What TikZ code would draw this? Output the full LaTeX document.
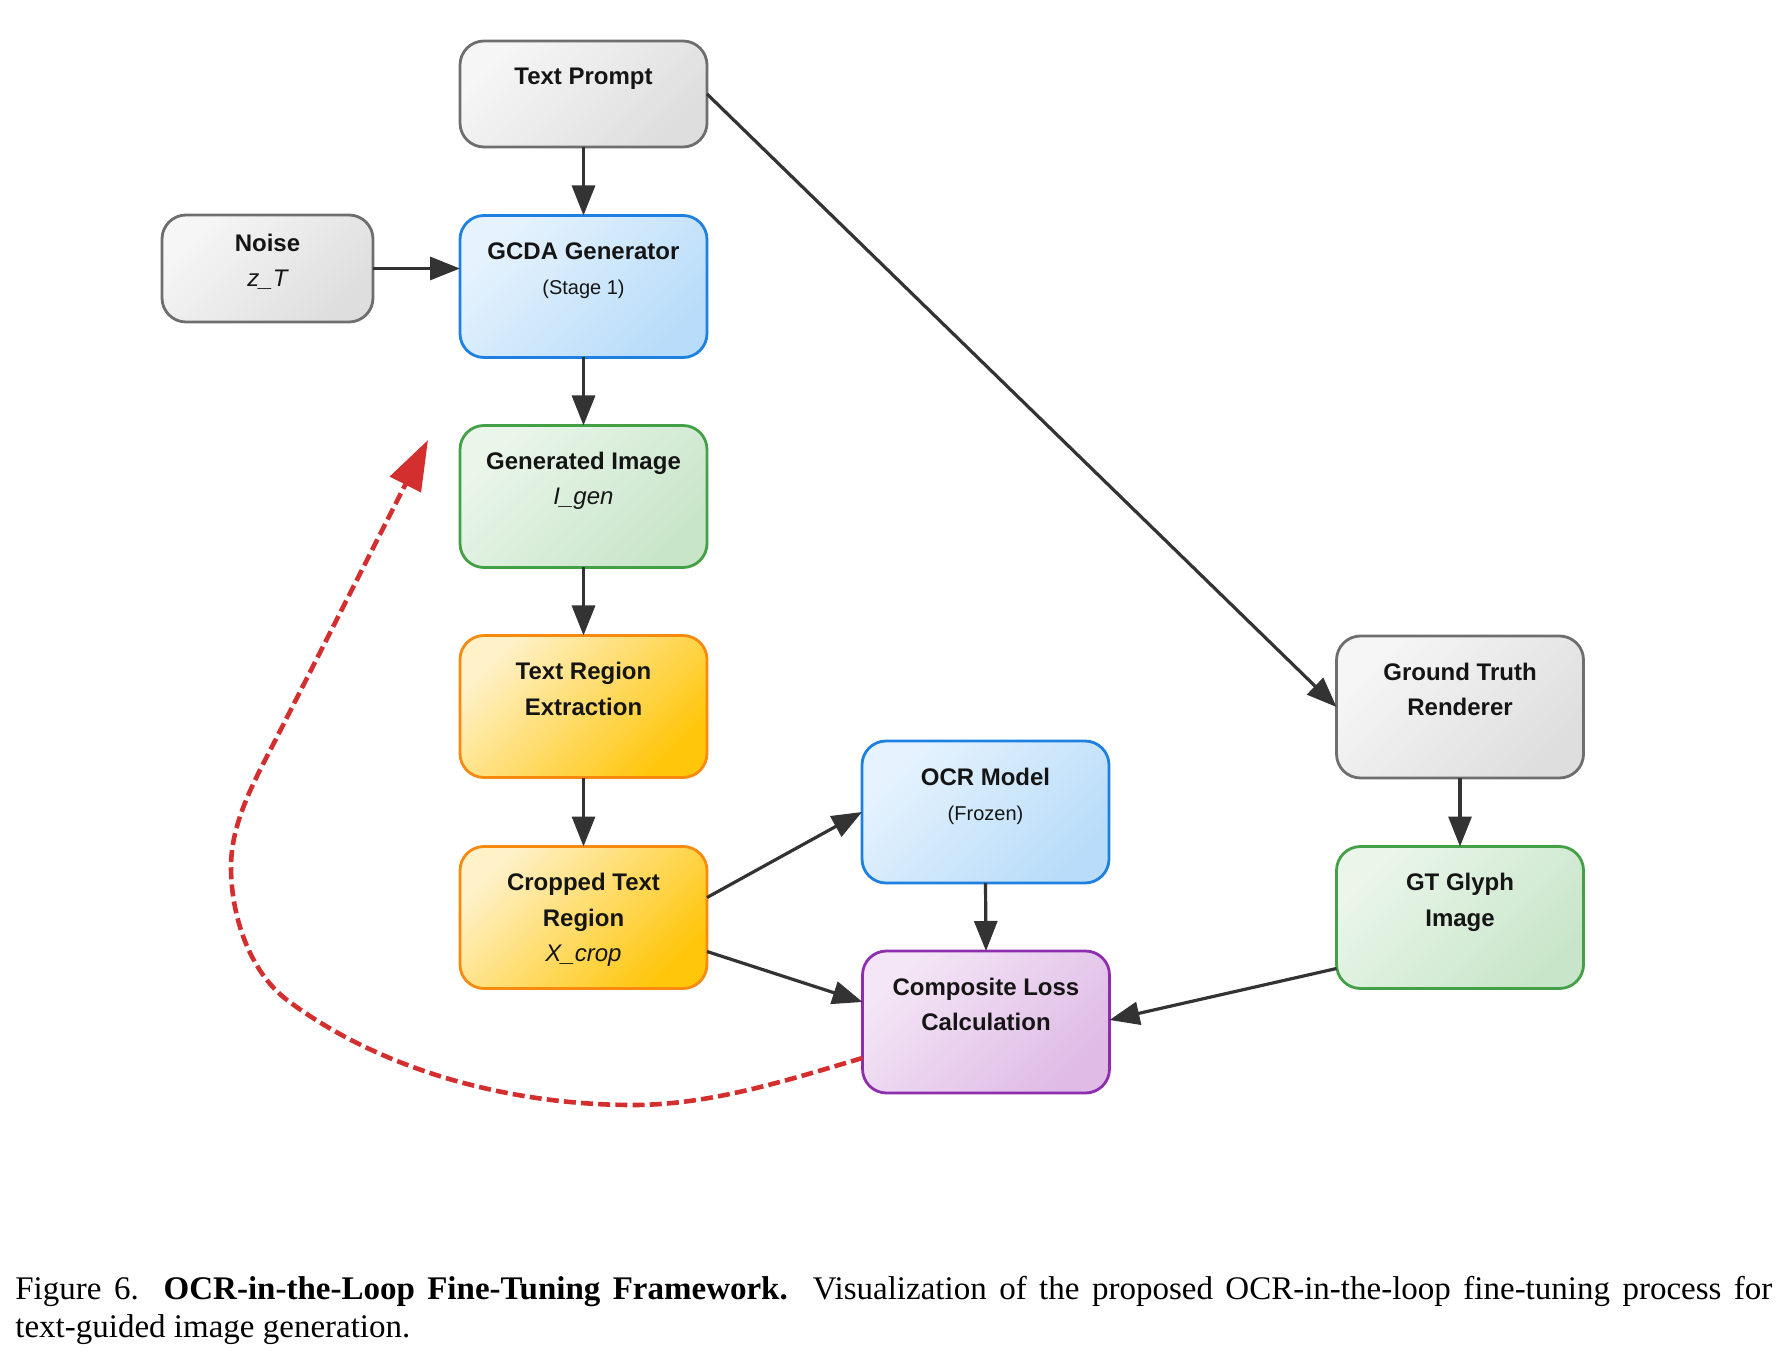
\documentclass[tikz,border=0pt]{standalone}
\usepackage{fontspec}
\setmainfont{Liberation Serif}
\newfontfamily\lsans{Liberation Sans}
\usetikzlibrary{arrows.meta,calc}
\definecolor{txt}{HTML}{151515}
\definecolor{arrc}{HTML}{333333}
\definecolor{fbred}{HTML}{D32F2F}
\definecolor{grayd}{HTML}{6E6E6E}\definecolor{grayl}{HTML}{F6F6F6}\definecolor{grayr}{HTML}{DEDEDE}
\definecolor{blued}{HTML}{1E80E0}\definecolor{bluel}{HTML}{E6F3FE}\definecolor{bluer}{HTML}{B8DCF9}
\definecolor{greend}{HTML}{43A047}\definecolor{greenl}{HTML}{EAF6EA}\definecolor{greenr}{HTML}{C8E5C9}
\definecolor{orad}{HTML}{F98A10}\definecolor{oral}{HTML}{FFF1C8}\definecolor{orar}{HTML}{FFC60A}
\definecolor{purd}{HTML}{8E2DAE}\definecolor{purl}{HTML}{F4E6F6}\definecolor{purr}{HTML}{DFBBE6}
\newcommand\bxt[4]{\parbox[c][#2][t]{#1}{\centering\vspace*{#3}\strut #4\par}}
\newcommand\smalltxt[1]{{\mdseries\fontsize{10}{17.75}\selectfont #1}}
\newcommand\vartxt[1]{{\mdseries\itshape #1}}
\tikzset{
  nbox/.style={line width=1.4pt, rounded corners=12pt, inner sep=0pt, outer sep=0pt, text=txt,
    font=\lsans\bfseries\fontsize{12}{17.75}\selectfont},
  grayb/.style={nbox, draw=grayd, top color=grayl, bottom color=grayr, shading angle=45},
  blueb/.style={nbox, draw=blued, top color=bluel, bottom color=bluer, shading angle=45},
  greenb/.style={nbox, draw=greend, top color=greenl, bottom color=greenr, shading angle=45},
  orab/.style={nbox, draw=orad, top color=oral, bottom color=orar, shading angle=45},
  purb/.style={nbox, draw=purd, top color=purl, bottom color=purr, shading angle=45},
  arr/.style={draw=arrc, line width=1.6pt, -{Triangle[length=15pt,width=11.5pt]}},
  fbarr/.style={draw=fbred, line width=2.3pt, dash pattern=on 6pt off 2.6pt, -{Triangle[length=25pt,width=17pt]}},
}
\begin{document}
\begin{tikzpicture}[x=0.5pt,y=-0.5pt]
\useasboundingbox (0,0) rectangle (1792,1368);
% nodes
\node[grayb] (tp) at (583.5,94) {\bxt{123.5pt}{53pt}{9.575pt}{Text Prompt}};
\node[grayb] (noise) at (267.5,268.5) {\bxt{105.5pt}{53.5pt}{5.825pt}{Noise\\\vartxt{z\_T}}};
\node[blueb] (gcda) at (583.5,286.5) {\bxt{123.5pt}{71pt}{9.575pt}{GCDA Generator\\\smalltxt{(Stage 1)}}};
\node[greenb] (gen) at (583.5,496.5) {\bxt{123.5pt}{71pt}{9.575pt}{Generated Image\\\vartxt{I\_gen}}};
\node[orab] (tre) at (583.5,706.5) {\bxt{123.5pt}{71pt}{9.575pt}{Text Region\\Extraction}};
\node[orab] (crop) at (583.5,917.5) {\bxt{123.5pt}{71pt}{9.575pt}{Cropped Text\\Region\\\vartxt{X\_crop}}};
\node[blueb] (ocr) at (985.5,812) {\bxt{123.5pt}{71pt}{9.575pt}{OCR Model\\\smalltxt{(Frozen)}}};
\node[purb] (comp) at (986,1022) {\bxt{123.5pt}{71pt}{9.575pt}{Composite Loss\\Calculation}};
\node[grayb] (gtr) at (1460,707) {\bxt{123.5pt}{71pt}{9.575pt}{Ground Truth\\Renderer}};
\node[greenb] (gtg) at (1460,917.5) {\bxt{123.5pt}{71pt}{9.575pt}{GT Glyph\\Image}};
% connectors
\draw[arr] (tp.south) -- (gcda.north);
\draw[arr] (noise.east) -- (noise.east -| gcda.west);
\draw[arr] (gcda.south) -- (gen.north);
\draw[arr] (gen.south) -- (tre.north);
\draw[arr] (tre.south) -- (crop.north);
\draw[arr] (tp.east) -- (gtr.west);
\draw[arr] ($(crop.east)+(0,-20)$) -- (ocr.west);
\draw[arr] ($(crop.east)+(0,34)$) -- ($(comp.west)+(0,-20)$);
\draw[arr] (ocr.south) -- (comp.north);
\draw[arr] (gtr.south) -- (gtg.north);
\draw[arr] ($(gtg.west)+(0,51)$) -- ($(comp.east)+(0,-2)$);
% feedback
\coordinate (fbstart) at ($(comp.west)+(0,36)$);
\coordinate (fbtip) at (428,440);
\draw[fbarr] (fbstart) .. controls (788,1080) and (711,1105) .. (633,1105)
  .. controls (513,1105) and (383,1072) .. (287,1000)
  .. controls (249,971) and (231,915) .. (231,867)
  .. controls (231,821) and (256,778) .. (277,737) -- (fbtip);
% caption
\node[inner sep=0pt, anchor=base west] (cap) at (15,1299) {\parbox[t]{878.5pt}{\fontsize{16.5}{19}\selectfont Figure 6.\ \ \textbf{OCR-in-the-Loop Fine-Tuning Framework.}\ \ Visualization of the proposed OCR-in-the-loop fine-tuning process for\linebreak text-guided image generation.}};
\end{tikzpicture}
\end{document}
